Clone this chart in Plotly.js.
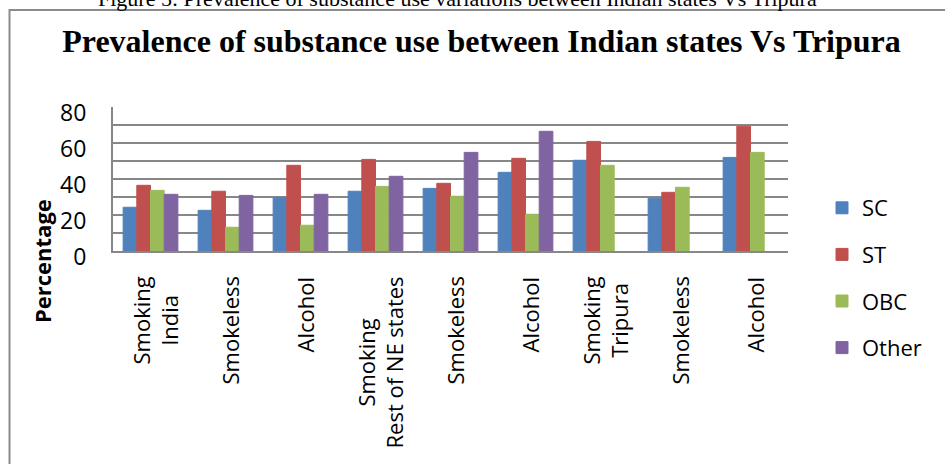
<!DOCTYPE html>
<html>
<head>
<meta charset="utf-8">
<script src="https://cdn.plot.ly/plotly-3.0.1.min.js"></script>
<style>html,body{margin:0;padding:0;background:#fff;}#chart{width:945px;height:464px;}</style>
</head>
<body>
<div id="chart"></div>
<script>
// ---- data ----
const categories = ["Smoking<br>India", "Smokeless", "Alcohol", "Smoking<br>Rest of NE states", "Smokeless", "Alcohol", "Smoking<br>Tripura", "Smokeless", "Alcohol"];
const seriesNames = ["SC", "ST", "OBC", "Other"];
const SC = [24.3, 22.6, 29.8, 33.2, 34.8, 43.7, 50.4, 29.3, 52.0];
const ST = [36.5, 33.2, 47.6, 50.9, 37.6, 51.5, 60.9, 32.6, 69.3];
const OBC = [33.7, 13.2, 14.3, 35.9, 30.4, 20.4, 47.6, 35.4, 54.8];
const Other = [31.5, 30.9, 31.5, 41.5, 54.8, 66.5, null, null, null];
const yTickVals = [0, 10, 20, 30, 40, 50, 60, 70, 80];
const yTickText = ["0", "", "20", "", "40", "", "60", "", "80"];
const chartTitle = "Prevalence of substance use between Indian states Vs Tripura";
const captionText = "Figure 5: Prevalence of substance use variations between Indian states Vs Tripura";
const yTitle = "Percentage";

const colors = ["#4F81BD", "#C0504D", "#9BBB59", "#8064A2"];
const values = [SC, ST, OBC, Other];
const xIdx = categories.map((c, i) => i);

const traces = values.map((v, k) => ({
  type: "bar",
  name: seriesNames[k],
  legendgroup: seriesNames[k],
  x: xIdx,
  y: v,
  marker: {color: colors[k], line: {color: colors[k], width: 1}},
  hoverinfo: "y+name"
}));

const L = 113, R = 788, T = 107, B = 251;
const W = 945, H = 464;
const pw = R - L, ph = B - T;
const px = X => (X - L) / pw;
const py = Y => (B - Y) / ph;
const font = "'Open Sans', 'DejaVu Sans', sans-serif";

const annotations = categories.map((c, i) => ({
  x: i, xref: "x", xshift: 4,
  y: py(275), yref: "paper", yanchor: "top", xanchor: "center",
  text: c, showarrow: false, textangle: -90, align: "center",
  font: {family: font, size: 22, color: "#000"}
}));
annotations.push({
  x: px(42), xref: "paper", y: py(261), yref: "paper",
  xanchor: "center", yanchor: "middle", text: "<b>" + yTitle + "</b>",
  showarrow: false, textangle: -90,
  font: {family: font, size: 22, color: "#000"}
});
annotations.push({
  x: px(457), xref: "paper", y: py(13), yref: "paper",
  xanchor: "center", yanchor: "bottom", text: captionText,
  showarrow: false,
  font: {family: "'Liberation Serif', 'Times New Roman', serif", size: 22, color: "#000"}
});

const layout = {
  width: W, height: H,
  margin: {l: L, r: W - R, t: T, b: H - B, pad: 0},
  paper_bgcolor: "#fff", plot_bgcolor: "#fff",
  title: {
    text: "<b>" + chartTitle + "</b>",
    x: 481.5 / W, xref: "container", xanchor: "center",
    y: 1 - 41 / H, yref: "container", yanchor: "middle",
    font: {family: "'Liberation Serif', 'Times New Roman', serif", size: 32, color: "#000"}
  },
  barmode: "group",
  bargap: 0.27, bargroupgap: 0,
  xaxis: {
    range: [-0.5, categories.length - 0.5],
    showticklabels: false, showgrid: false, zeroline: false,
    showline: true, linecolor: "#878787", linewidth: 2, ticks: "",
    fixedrange: true
  },
  yaxis: {
    range: [0, 80], tickvals: yTickVals, ticktext: yTickText,
    showgrid: true, gridcolor: "#878787", gridwidth: 2,
    zeroline: false, showline: true, linecolor: "#878787", linewidth: 2,
    ticks: "", ticklabelstandoff: 20, ticklabelshift: 6,
    tickfont: {family: font, size: 23, color: "#000"},
    fixedrange: true
  },
  legend: {
    x: px(822), xanchor: "left", y: py(187), yanchor: "top",
    font: {family: font, size: 22, color: "#000"},
    tracegroupgap: 15, bgcolor: "rgba(0,0,0,0)", maxheight: 400
  },
  showlegend: true,
  annotations: annotations,
  shapes: [{
    type: "path", xref: "paper", yref: "paper",
    path: `M ${px(9.5)} ${py(490)} L ${px(9.5)} ${py(10)} L ${px(960)} ${py(10)}`,
    line: {color: "#8c8c8c", width: 2}
  }]
};

Plotly.newPlot("chart", traces, layout, {displayModeBar: false, staticPlot: true});
</script>
</body>
</html>
